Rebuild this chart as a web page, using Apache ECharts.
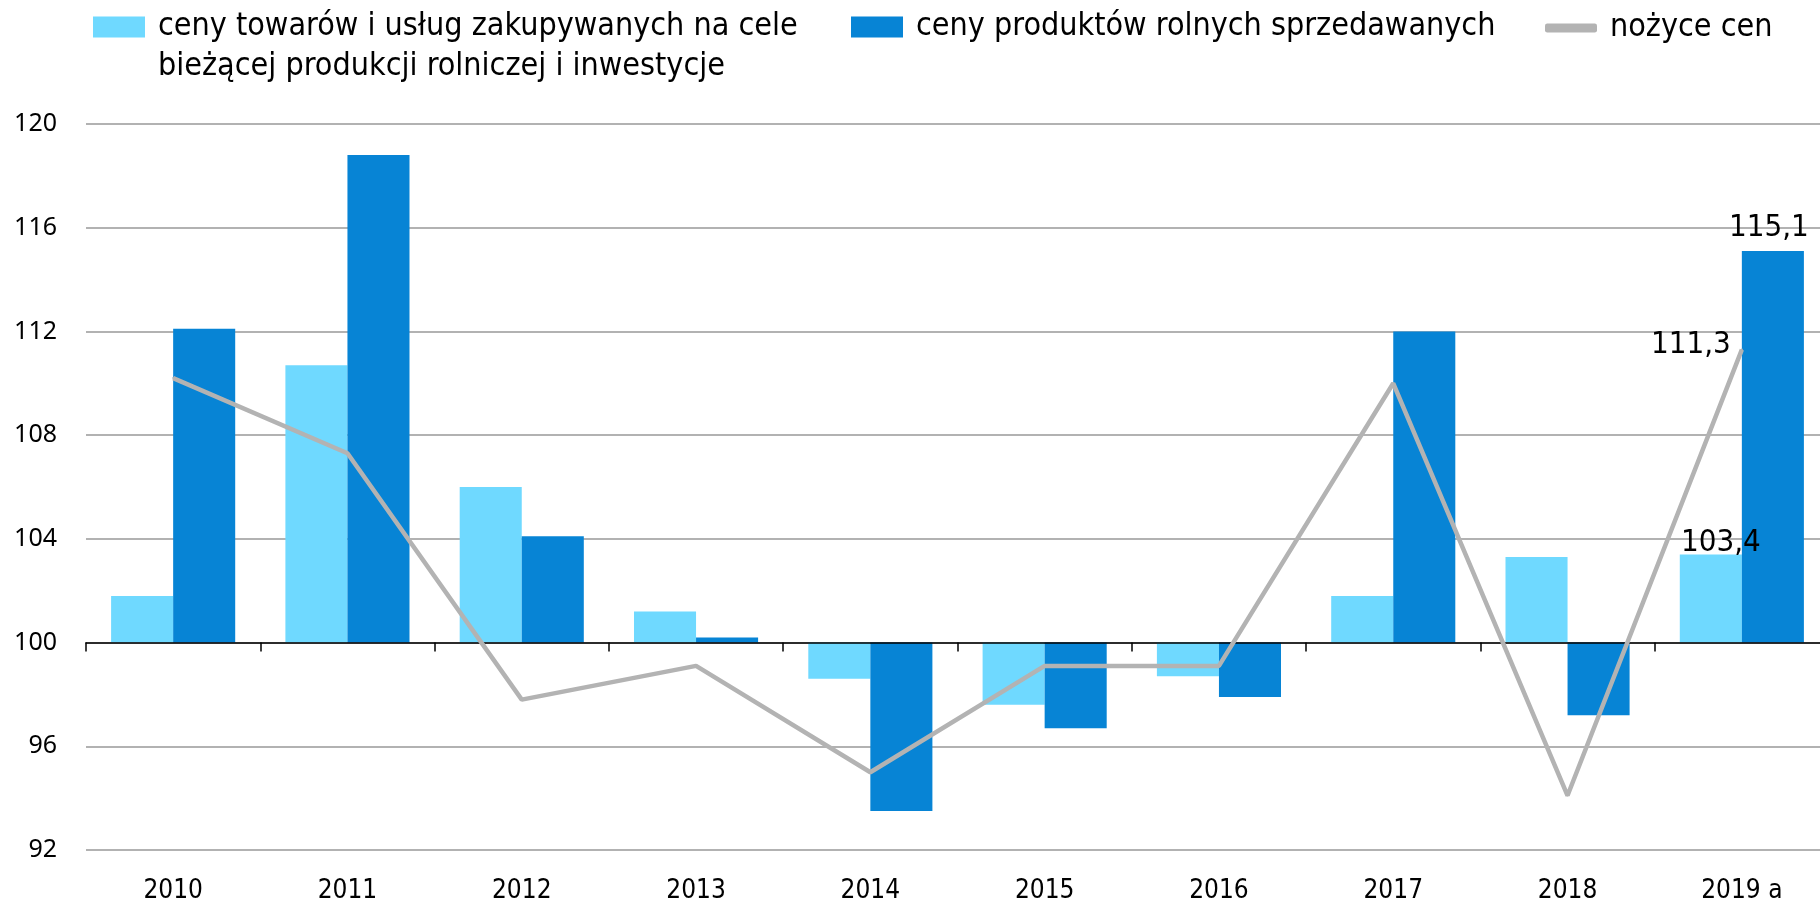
<!DOCTYPE html>
<html>
<head>
<meta charset="utf-8">
<script src="https://cdn.jsdelivr.net/npm/echarts@6/dist/echarts.min.js"></script>
<style>html,body{margin:0;padding:0;background:#fff;overflow:hidden;width:1820px;height:900px}#c{width:1829px;height:900px}</style>
</head>
<body>
<div id="c"></div>
<script>
const categories = ['2010','2011','2012','2013','2014','2015','2016','2017','2018','2019 a'];
const inputPrices = [101.8, 110.7, 106.0, 101.2, 98.6, 97.6, 98.7, 101.8, 103.3, 103.4];
const outputPrices = [112.1, 118.8, 104.1, 100.2, 93.5, 96.7, 97.9, 112.0, 97.2, 115.1];
const scissors = [110.2, 107.3, 97.8, 99.1, 95.0, 99.1, 99.1, 110.0, 94.1, 111.3];
const seriesNames = ['ceny towarów i usług zakupywanych na cele\nbieżącej produkcji rolniczej i inwestycje', 'ceny produktów rolnych sprzedawanych', 'nożyce cen'];
const baseValue = 100;
const yMin = 92, yMax = 120, yStep = 4;

const fmt = v => v.toFixed(1).replace('.', ',');
const shift = arr => arr.map(v => +(v - baseValue).toFixed(2));
const last = categories.length - 1;

const labelFont = {fontFamily: 'DejaVu Sans Condensed', fontSize: 31, color: '#000'};

const lightData = shift(inputPrices).map((v, i) => i === last ? {value: v, label: {show: true, position: 'top', distance: 0, offset: [10, 4], formatter: () => fmt(inputPrices[i]), ...labelFont}} : v);
const darkData = shift(outputPrices).map((v, i) => i === last ? {value: v, label: {show: true, position: 'top', distance: 8, offset: [-4, 0], formatter: () => fmt(outputPrices[i]), ...labelFont}} : v);
const lineData = shift(scissors).map((v, i) => i === last ? {value: v, label: {show: true, position: 'left', distance: 10, offset: [0, -5], formatter: () => fmt(scissors[i]), ...labelFont}} : v);

const legendText = {fontFamily: 'DejaVu Sans Condensed', fontSize: 32, color: '#000'};

const chart = echarts.init(document.getElementById('c'), null, {renderer: 'canvas'});
chart.setOption({
  animation: false,
  color: ['#6fd9ff', '#0784d5', '#b3b3b3'],
  legend: [
    {data: [seriesNames[0]], left: 93, top: 7, padding: 0, itemWidth: 52, itemHeight: 61,
     icon: 'path://M0,0H52V21H0Z M0,61L0.01,61', textStyle: {...legendText, lineHeight: 40, padding: [0, 0, 0, 8]}},
    {data: [seriesNames[1]], left: 851, top: 11, padding: 0, itemWidth: 52, itemHeight: 21,
     icon: 'rect', textStyle: {...legendText, padding: [0, 0, 0, 8]}},
    {data: [seriesNames[2]], left: 1545, top: 12, padding: 0, itemWidth: 52, itemHeight: 9,
     icon: 'roundRect', itemStyle: {color: '#b3b3b3'}, textStyle: {...legendText, padding: [0, 0, 0, 8]}}
  ],
  grid: {left: 86, top: 124, right: 0, height: 726, containLabel: false, outerBoundsMode: 'none'},
  xAxis: [
    {type: 'category', data: categories, boundaryGap: true,
     axisLine: {show: true, onZero: true, lineStyle: {color: '#000', width: 1.5}},
     axisTick: {show: true, length: 9, lineStyle: {color: '#000', width: 1.5}},
     axisLabel: {show: false}, z: 3},
    {type: 'category', data: categories, position: 'bottom', boundaryGap: true,
     axisLine: {show: false, onZero: false}, axisTick: {show: false},
     axisLabel: {show: true, margin: 28, fontFamily: 'DejaVu Sans Condensed', fontSize: 26, color: '#000'}}
  ],
  yAxis: {
    type: 'value', min: yMin - baseValue, max: yMax - baseValue, interval: yStep,
    axisLine: {show: false}, axisTick: {show: false},
    splitLine: {show: true, lineStyle: {color: '#999', width: 1.5}},
    axisLabel: {margin: 29, fontFamily: 'Noto Sans', fontSize: 25, color: '#000',
      formatter: v => String(v + baseValue)}
  },
  series: [
    {name: seriesNames[0], type: 'bar', xAxisIndex: 0, data: lightData, barGap: '0%', barCategoryGap: '28.8%', z: 2},
    {name: seriesNames[1], type: 'bar', xAxisIndex: 0, data: darkData, barGap: '0%', barCategoryGap: '28.8%', z: 2},
    {name: seriesNames[2], type: 'line', xAxisIndex: 0, data: lineData, symbol: 'circle', symbolSize: 2, showSymbol: true,
     itemStyle: {color: '#b3b3b3'}, lineStyle: {width: 4.5, color: '#b3b3b3'}, z: 4}
  ]
});
</script>
</body>
</html>
